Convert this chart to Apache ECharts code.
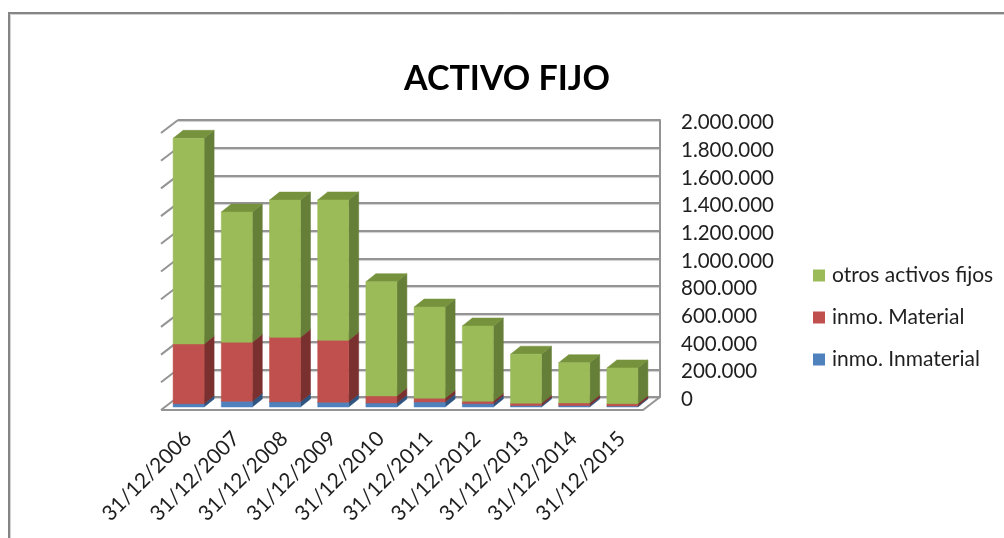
<!DOCTYPE html>
<html>
<head>
<meta charset="utf-8">
<title>ACTIVO FIJO</title>
<style>
  html, body { margin: 0; padding: 0; background: #fff; }
  #chart { width: 1004px; height: 538px; }
</style>
<script src="https://cdn.jsdelivr.net/npm/echarts@6/dist/echarts.min.js"></script>
</head>
<body>
<div id="chart"></div>
<script>
const categories = ['31/12/2006','31/12/2007','31/12/2008','31/12/2009','31/12/2010','31/12/2011','31/12/2012','31/12/2013','31/12/2014','31/12/2015'];
const inmaterial = [24000, 41000, 38000, 34000, 29000, 36000, 24000, 10000, 10000, 7000];
const material = [431000, 426000, 465000, 448000, 51000, 27000, 17000, 17000, 19000, 17000];
const otros = [1485000, 941000, 991000, 1013000, 825000, 659000, 544000, 354000, 291000, 258000];
const yTicks = [0, 200000, 400000, 600000, 800000, 1000000, 1200000, 1400000, 1600000, 1800000, 2000000];

const font = 'Lato';
const textColor = '#1f1f1f';
const wallColor = '#949494';

// pseudo 3D sizes, in pixels
const floorDx = 17, floorDy = 13;     // depth of the floor and the left wall
const barShiftX = -13.5, barShiftY = 10;  // front of a bar compared to the back wall
const barWidth = 31, barDx = 10, barDy = 8;

function poly(points, color) {
    return { type: 'polygon', shape: { points: points }, style: { fill: color, stroke: color, lineWidth: 0.5 } };
}

// one stacked block: front, side and top face
function blockRenderer(front, side, top) {
    return function (params, api) {
        let bottom = api.coord([api.value(0), api.value(1)]);
        let upper = api.coord([api.value(0), api.value(2)]);
        let x0 = bottom[0] + barShiftX - barWidth / 2;
        let x1 = x0 + barWidth;
        let y0 = bottom[1] + barShiftY;
        let y1 = upper[1] + barShiftY;
        return {
            type: 'group',
            children: [
                poly([[x1, y0], [x1 + barDx, y0 - barDy], [x1 + barDx, y1 - barDy], [x1, y1]], side),
                poly([[x0, y1], [x1, y1], [x1 + barDx, y1 - barDy], [x0 + barDx, y1 - barDy]], top),
                poly([[x0, y0], [x1, y0], [x1, y1], [x0, y1]], front)
            ]
        };
    };
}

// left wall ticks and floor, hung on the value axis
function wallRenderer(params, api) {
    let v = api.value(0);
    let p = api.coord([0, v]);
    let left = params.coordSys.x;
    let right = left + params.coordSys.width;
    let lineStyle = { stroke: wallColor, lineWidth: 2, fill: 'none' };
    let children = [{
        type: 'line',
        shape: { x1: left, y1: p[1], x2: left - floorDx, y2: p[1] + floorDy },
        style: lineStyle
    }];
    if (v === 0) {
        children.push({
            type: 'polyline',
            shape: { points: [[left - floorDx, p[1] + floorDy], [right - floorDx, p[1] + floorDy], [right, p[1]]] },
            style: lineStyle
        });
    }
    return { type: 'group', children: children };
}

function stackData(lower, values) {
    return values.map((v, i) => {
        let base = lower.reduce((sum, arr) => sum + arr[i], 0);
        return [i, base, base + v];
    });
}

const chart = echarts.init(document.getElementById('chart'));

chart.setOption({
    backgroundColor: '#fff',
    animation: false,
    textStyle: { fontFamily: font },
    title: {
        text: 'ACTIVO FIJO',
        left: 502,
        top: 57,
        textAlign: 'center',
        textStyle: { fontFamily: font, fontSize: 34, fontWeight: 'bold', color: '#000' }
    },
    legend: {
        data: ['otros activos fijos', 'inmo. Material', 'inmo. Inmaterial'],
        orient: 'vertical',
        left: 808,
        top: 260,
        icon: 'rect',
        itemWidth: 12,
        itemHeight: 12,
        itemGap: 21,
        textStyle: { fontFamily: font, fontSize: 21, color: textColor, padding: [0, 0, 0, 2] }
    },
    grid: { left: 178, right: 344, top: 120, bottom: 141 },
    xAxis: {
        type: 'category',
        data: categories,
        axisLine: { show: false },
        axisTick: { show: false },
        axisLabel: {
            interval: 0,
            rotate: 45,
            margin: 24,
            padding: [0, 20, 0, 0],
            fontFamily: font,
            fontSize: 21,
            color: textColor
        }
    },
    yAxis: {
        type: 'value',
        position: 'right',
        min: 0,
        max: 2000000,
        interval: 200000,
        axisLine: { show: true, lineStyle: { color: wallColor, width: 2 } },
        axisTick: { show: false },
        splitLine: { show: true, lineStyle: { color: wallColor, width: 2, shadowColor: '#cfcfcf', shadowBlur: 1, shadowOffsetY: 1 } },
        axisLabel: {
            margin: 21,
            verticalAlign: 'top',
            padding: [-8, 0, 0, 0],
            fontFamily: font,
            fontSize: 20.5,
            color: textColor,
            formatter: v => String(v).replace(/\B(?=(\d{3})+$)/g, '.')
        }
    },
    series: [
        {
            name: 'walls',
            type: 'custom',
            silent: true,
            renderItem: wallRenderer,
            data: yTicks.map(v => [v]),
            encode: { y: 0 },
            z: 1
        },
        {
            name: 'inmo. Inmaterial',
            type: 'custom',
            renderItem: blockRenderer('#4F81BD', '#2F5480', '#3D6594'),
            itemStyle: { color: '#4F81BD' },
            data: stackData([], inmaterial),
            encode: { x: 0, y: [1, 2] },
            z: 2
        },
        {
            name: 'inmo. Material',
            type: 'custom',
            renderItem: blockRenderer('#C0504D', '#7A302E', '#953F3C'),
            itemStyle: { color: '#C0504D' },
            data: stackData([inmaterial], material),
            encode: { x: 0, y: [1, 2] },
            z: 3
        },
        {
            name: 'otros activos fijos',
            type: 'custom',
            renderItem: blockRenderer('#9BBB59', '#667F38', '#76923C'),
            itemStyle: { color: '#9BBB59' },
            data: stackData([inmaterial, material], otros),
            encode: { x: 0, y: [1, 2] },
            z: 4
        }
    ],
    graphic: [
        {
            type: 'polyline',
            silent: true,
            shape: { points: [[10.5, 538], [10.5, 14.5], [1004, 14.5]] },
            style: { stroke: '#d2d2d2', lineWidth: 1, fill: 'none' }
        },
        {
            type: 'polyline',
            silent: true,
            shape: { points: [[9, 538], [9, 13], [1004, 13]] },
            style: { stroke: '#858585', lineWidth: 2, fill: 'none' }
        }
    ]
});
</script>
</body>
</html>
